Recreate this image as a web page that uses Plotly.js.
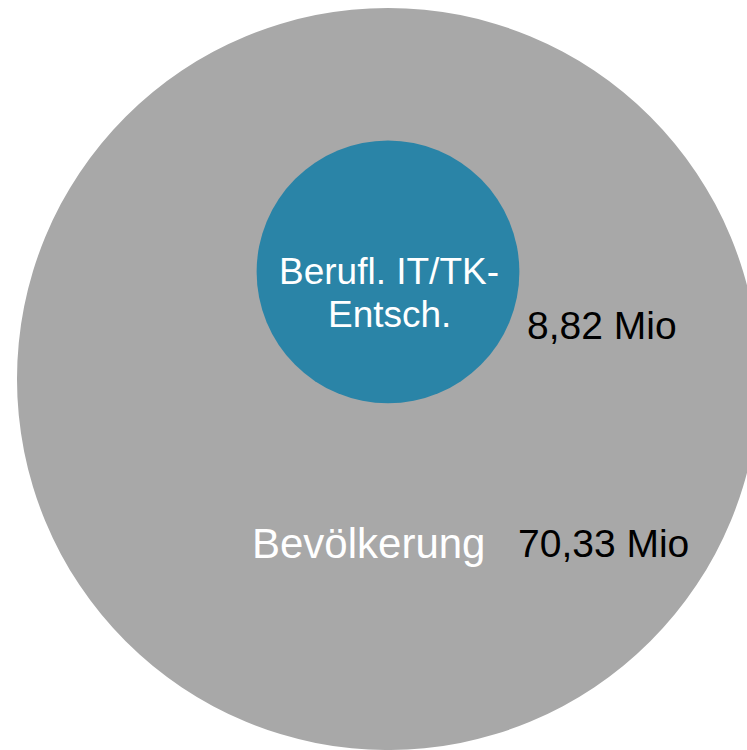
<!DOCTYPE html>
<html>
<head>
<meta charset="utf-8">
<script src="https://cdn.plot.ly/plotly-3.0.1.min.js"></script>
<style>
	html, body { margin: 0; padding: 0; background: #fff; }
	#chart { width: 747px; height: 750px; }
</style>
</head>
<body>
<div id="chart"></div>
<script>
"use strict";

// values in millions
var groups = ["Bevölkerung", "Berufl. IT/TK-<br>Entsch."];
var values = [70.33, 8.82];
var unit = "Mio";

function fmt(v) {
	return v.toFixed(2).replace(".", ",") + " " + unit;
} //fmt

function draw() {
	var pxPerUnit = 44.24;
	var cx = 388, cy = 379; // centre of the big circle, in pixels
	var W = 747, H = 750;
	var font = "Liberation Sans, Arial, sans-serif";

	var rBig = Math.sqrt(values[0]),
		rSmall = Math.sqrt(values[1]),
		smallDy = 2.42; // small circle sits above the centre

	var shapes = [
		{
			type: "circle", xref: "x", yref: "y", layer: "below",
			x0: -rBig, x1: rBig, y0: -rBig, y1: rBig,
			fillcolor: "#a8a8a8", line: { width: 0 }
		},
		{
			type: "circle", xref: "x", yref: "y", layer: "below",
			x0: -rSmall, x1: rSmall, y0: smallDy - rSmall, y1: smallDy + rSmall,
			fillcolor: "#2a84a7", line: { width: 0 }
		}
	];

	var annotations = [
		{ x: -0.434, y: -3.72, text: groups[0], font: { family: font, size: 42, color: "#ffffff" } },
		{ x: 4.86, y: -3.72, text: fmt(values[0]), font: { family: font, size: 39, color: "#000000" } },
		{ x: 4.826, y: 1.22, text: fmt(values[1]), font: { family: font, size: 39, color: "#000000" } }
	];
	// inner label, one annotation per line to get the tighter line spacing
	var lines = groups[1].split("<br>");
	lines.forEach(function (ln, i) {
		annotations.push({ x: 0.03, y: 2.419 - i * 0.972, text: ln, font: { family: font, size: 37, color: "#ffffff" } });
	});
	annotations.forEach(function (a) {
		a.xref = "x"; a.yref = "y"; a.showarrow = false;
		a.xanchor = "center"; a.yanchor = "middle";
	});

	var layout = {
		width: W, height: H,
		margin: { l: 0, r: 0, t: 0, b: 0 },
		paper_bgcolor: "#ffffff",
		plot_bgcolor: "#ffffff",
		showlegend: false,
		xaxis: { range: [-cx / pxPerUnit, (W - cx) / pxPerUnit], visible: false, fixedrange: true },
		yaxis: { range: [-(H - cy) / pxPerUnit, cy / pxPerUnit], visible: false, fixedrange: true },
		shapes: shapes,
		annotations: annotations
	};

	return Plotly.newPlot("chart", [], layout, { staticPlot: true });
} //draw

window.addEventListener("DOMContentLoaded", draw);
</script>
</body>
</html>
